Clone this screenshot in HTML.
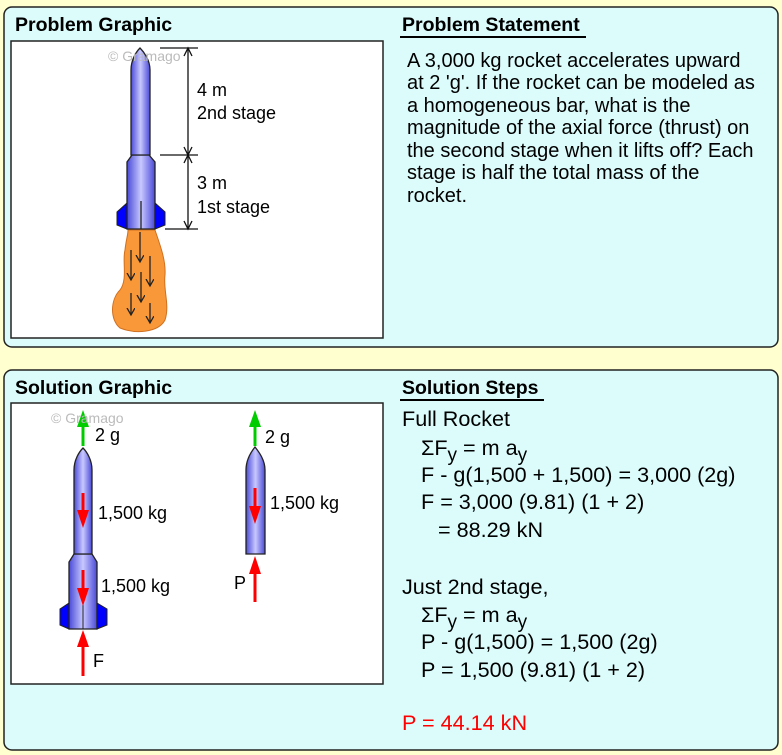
<!DOCTYPE html>
<html><head><meta charset="utf-8"><style>
body{margin:0;background:#ffffd0;}
svg{display:block;font-family:"Liberation Sans",sans-serif;}
</style></head><body>
<svg width="782" height="755" viewBox="0 0 782 755" xmlns="http://www.w3.org/2000/svg">
<defs>
<linearGradient id="bg" x1="0" x2="1" y1="0" y2="0">
<stop offset="0" stop-color="#4a4ad8"/><stop offset="0.5" stop-color="#c8c8ff"/><stop offset="1" stop-color="#4a4ad8"/>
</linearGradient>
<marker id="ah" markerWidth="9" markerHeight="9" refX="7" refY="4" orient="auto" markerUnits="userSpaceOnUse">
<path d="M0,0 L7,4 L0,8" fill="none" stroke="#222" stroke-width="1.3"/></marker>
</defs>
<rect width="782" height="755" fill="#ffffd0"/>
<rect x="4" y="7" width="774" height="340" rx="8" fill="#dcfcfc" stroke="#222" stroke-width="1.5"/>
<rect x="4" y="370" width="774" height="380" rx="8" fill="#dcfcfc" stroke="#222" stroke-width="1.5"/>
<text x="15" y="31" font-size="19.5" font-weight="bold">Problem Graphic</text>
<text x="402" y="31" font-size="19.5" font-weight="bold">Problem Statement</text>
<line x1="400" y1="37" x2="586" y2="37" stroke="#000" stroke-width="2"/>
<text x="15" y="394" font-size="19.5" font-weight="bold">Solution Graphic</text>
<text x="402" y="394" font-size="19.5" font-weight="bold">Solution Steps</text>
<line x1="400" y1="400" x2="544" y2="400" stroke="#000" stroke-width="2"/>
<rect x="11" y="41" width="372" height="297" fill="#fff" stroke="#222" stroke-width="1.5"/>
<rect x="11" y="403" width="372" height="281" fill="#fff" stroke="#222" stroke-width="1.5"/>
<g font-size="20" fill="#000">
<text x="407" y="67">A 3,000 kg rocket accelerates upward</text>
<text x="407" y="89">at 2 'g'. If the rocket can be modeled as</text>
<text x="407" y="112">a homogeneous bar, what is the</text>
<text x="407" y="134">magnitude of the axial force (thrust) on</text>
<text x="407" y="157">the second stage when it lifts off? Each</text>
<text x="407" y="179">stage is half the total mass of the</text>
<text x="407" y="202">rocket.</text>
</g>
<g font-size="21.6">
<text x="402" y="426">Full Rocket</text>
<text x="421" y="455">ΣF<tspan font-size="19" dy="6">y</tspan><tspan dy="-6"> = m a</tspan><tspan font-size="19" dy="6">y</tspan></text>
<text x="421" y="482">F - g(1,500 + 1,500) = 3,000 (2g)</text>
<text x="421" y="509">F = 3,000 (9.81) (1 + 2)</text>
<text x="438" y="537">= 88.29 kN</text>
<text x="402" y="594">Just 2nd stage,</text>
<text x="421" y="622">ΣF<tspan font-size="19" dy="6">y</tspan><tspan dy="-6"> = m a</tspan><tspan font-size="19" dy="6">y</tspan></text>
<text x="421" y="649">P - g(1,500) = 1,500 (2g)</text>
<text x="421" y="677">P = 1,500 (9.81) (1 + 2)</text>
<text x="402" y="730" fill="#f00">P = 44.14 kN</text>
</g>
<!-- top rocket -->
<path d="M128,230 L155,230 C160,245 166,260 165,275 C163,290 170,305 165,320 C158,333 135,334 120,328 C110,320 110,300 120,290 C128,280 122,260 125,250 C126,240 128,235 128,230 Z" fill="#f99838" stroke="#d07020"/>
<path d="M127,203 L117,212 L117,225 L127,229 Z M155,203 L165,212 L165,225 L155,229 Z" fill="#0000ff" stroke="#222"/>
<path d="M127,229 L127,162 L132,155 L149,155 L155,162 L155,229 Z" fill="url(#bg)" stroke="#222" stroke-width="1.3"/>
<path d="M131,155 L131,70 C131,60 136,52 140,48 C144,52 150,60 150,70 L150,155 Z" fill="url(#bg)" stroke="#222" stroke-width="1.3"/>
<line x1="141" y1="201" x2="141" y2="229" stroke="#222" stroke-width="1.3"/>
<g stroke="#222" stroke-width="1.3" marker-end="url(#ah)">
<line x1="140" y1="232" x2="140" y2="262"/><line x1="131" y1="250" x2="131" y2="280"/><line x1="150" y1="256" x2="150" y2="286"/><line x1="141" y1="272" x2="141" y2="302"/><line x1="131" y1="293" x2="131" y2="315"/><line x1="150" y1="303" x2="150" y2="323"/>
</g>
<text x="108" y="61" font-size="14" fill="#bbb">© Gramago</text>
<g stroke="#111" stroke-width="1.3">
<line x1="160" y1="48" x2="198" y2="48"/><line x1="160" y1="155" x2="198" y2="155"/><line x1="165" y1="229" x2="198" y2="229"/>
<line x1="188" y1="48" x2="188" y2="229"/>
<path d="M184,56 L188,48 L192,56 M184,147 L188,155 L192,147 M184,163 L188,155 L192,163 M184,221 L188,229 L192,221" fill="none"/>
</g>
<g font-size="18"><text x="197" y="96">4 m</text><text x="197" y="119">2nd stage</text><text x="197" y="189">3 m</text><text x="197" y="213">1st stage</text></g>
<!-- solution rocket 1 -->
<path d="M69,603 L60,609 L60,625 L69,629 Z M97,603 L107,609 L107,625 L97,629 Z" fill="#0000ff" stroke="#222"/>
<path d="M69,629 L69,562 L74,554 L92,554 L97,562 L97,629 Z" fill="url(#bg)" stroke="#222" stroke-width="1.3"/>
<path d="M74,554 L74,470 C74,460 79,452 83,448 C87,452 92,460 92,470 L92,554 Z" fill="url(#bg)" stroke="#222" stroke-width="1.3"/>
<line x1="83" y1="600" x2="83" y2="629" stroke="#222"/>
<!-- solution rocket 2 -->
<path d="M246,554 L246,470 C246,460 251,452 255,447 C259,452 265,460 265,470 L265,554 Z" fill="url(#bg)" stroke="#222" stroke-width="1.3"/>
<g stroke="#f00" stroke-width="3" fill="#f00">
<line x1="83" y1="493" x2="83" y2="512"/><path d="M77,510 L89,510 L83,528 Z" stroke="none"/>
<line x1="83" y1="570" x2="83" y2="590"/><path d="M77,588 L89,588 L83,606 Z" stroke="none"/>
<line x1="255" y1="488" x2="255" y2="508"/><path d="M249,506 L261,506 L255,524 Z" stroke="none"/>
<line x1="83" y1="676" x2="83" y2="645"/><path d="M77,647 L89,647 L83,630 Z" stroke="none"/>
<line x1="255" y1="602" x2="255" y2="572"/><path d="M249,574 L261,574 L255,556 Z" stroke="none"/>
</g>
<g stroke="#0c0" stroke-width="3" fill="#0c0">
<line x1="83" y1="446" x2="83" y2="425"/><path d="M77,427 L89,427 L83,410 Z" stroke="none"/>
<line x1="255" y1="446" x2="255" y2="425"/><path d="M249,427 L261,427 L255,410 Z" stroke="none"/>
</g>
<text x="51" y="423" font-size="14" fill="#bbb">© Gramago</text>
<g font-size="18">
<text x="95" y="441">2 g</text><text x="265" y="443">2 g</text>
<text x="98" y="519">1,500 kg</text><text x="270" y="509">1,500 kg</text>
<text x="101" y="592">1,500 kg</text>
<text x="93" y="667">F</text><text x="234" y="589">P</text>
</g>
</svg>
</body></html>
